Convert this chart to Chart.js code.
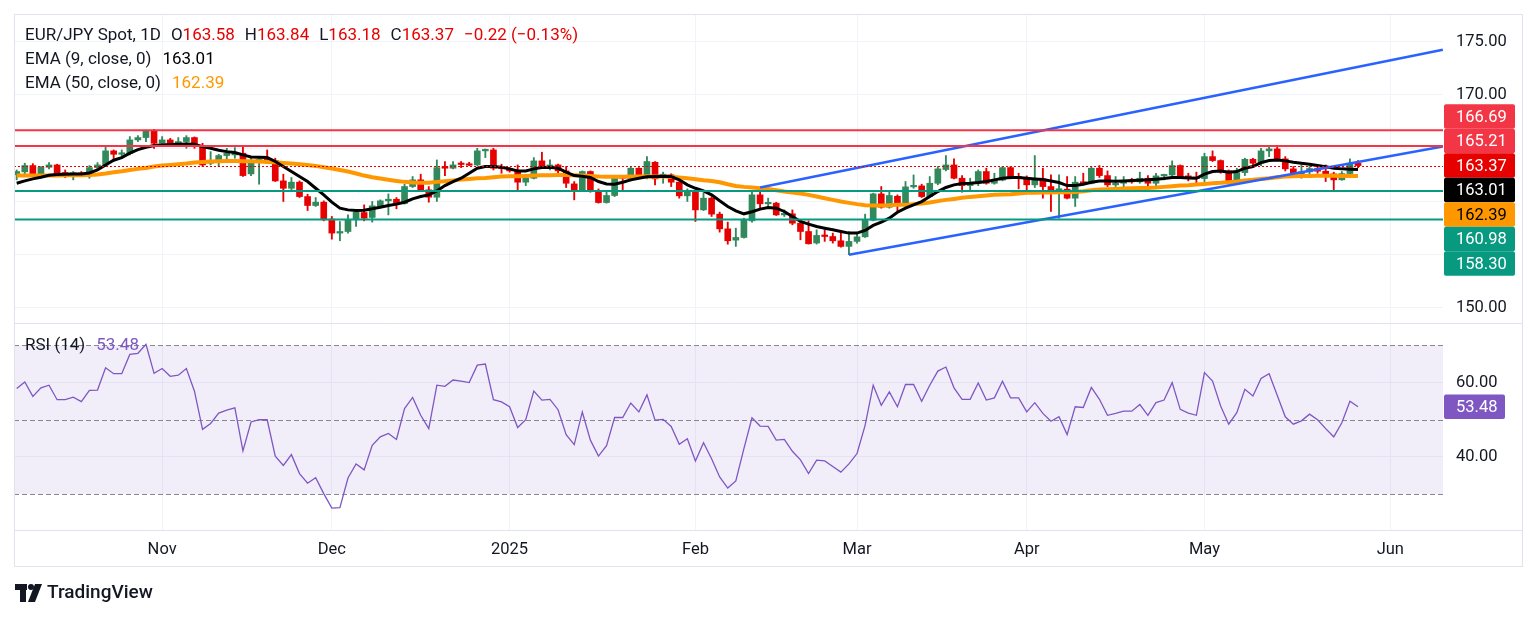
<!DOCTYPE html>
<html><head><meta charset="utf-8">
<script src="https://cdn.jsdelivr.net/npm/chart.js@4.4.1/dist/chart.umd.min.js"></script>
<style>html,body{margin:0;padding:0;background:#fff;}#wrap{position:relative;width:1536px;height:617px;overflow:hidden}</style>
</head><body><div id="wrap"><canvas id="c" width="1536" height="617" style="width:1536px;height:617px"></canvas></div>
<script>
const symbolTitle = 'EUR/JPY Spot, 1D';
const opens = [162.50,162.78,163.37,162.43,163.21,163.43,162.72,162.56,162.68,162.50,163.18,163.43,164.75,164.43,164.50,165.78,166.00,166.62,165.46,165.78,165.46,165.62,166.00,165.15,163.59,163.84,164.31,164.37,164.53,162.59,163.70,164.00,163.85,161.93,161.24,161.81,160.46,159.62,159.93,158.35,157.03,157.18,158.28,158.96,158.50,159.59,160.06,160.21,159.81,161.40,162.03,161.09,160.40,163.25,163.12,163.55,163.47,163.43,164.75,164.84,163.20,163.10,162.87,161.81,162.18,163.81,163.28,163.43,162.87,161.65,161.00,162.81,161.00,159.90,160.56,162.25,162.12,163.12,162.50,163.68,162.30,162.50,161.81,160.53,160.93,159.21,160.31,158.81,157.43,156.37,156.62,158.18,160.62,159.78,159.84,158.74,158.84,157.96,157.18,156.10,156.81,156.71,156.31,155.78,156.25,156.68,158.24,160.71,159.46,160.49,159.62,161.37,161.46,160.46,161.71,163.00,163.43,162.18,161.49,161.71,162.81,161.71,162.00,163.18,162.30,162.20,161.56,162.12,161.40,161.05,161.15,160.31,161.81,161.71,163.12,162.43,161.56,161.71,161.93,161.84,162.18,161.71,162.40,162.49,163.37,162.40,162.25,162.15,164.21,163.84,162.87,161.96,162.71,163.96,163.59,164.75,164.93,164.00,163.06,162.59,162.78,163.09,162.84,162.59,162.03,162.62,163.58];
const highs = [162.96,163.59,163.55,163.28,163.65,163.50,162.96,162.81,162.81,163.37,163.65,165.09,164.84,164.84,166.09,166.18,166.71,166.78,166.09,165.93,166.00,166.18,166.06,165.46,164.68,164.43,164.99,165.06,165.15,164.06,164.06,164.84,164.06,162.56,162.25,161.93,160.68,160.37,160.06,158.59,158.12,158.74,159.21,159.68,160.00,160.15,160.71,160.37,161.62,162.34,162.56,161.40,163.90,163.75,163.75,163.75,163.68,164.99,164.93,164.99,163.50,163.18,163.43,162.34,164.12,164.62,163.90,163.50,163.28,161.87,162.87,162.87,161.18,160.87,162.34,162.34,163.28,163.18,164.21,163.75,162.75,162.60,161.87,161.18,161.00,160.78,160.46,159.00,158.06,157.49,158.43,161.00,161.31,160.31,159.93,159.21,159.21,158.06,158.18,157.34,157.34,157.03,157.25,157.18,157.03,158.81,160.78,161.40,160.87,160.62,161.87,162.49,161.62,162.34,163.28,164.31,164.00,162.43,162.18,162.96,163.12,162.65,163.28,163.28,162.65,162.40,164.31,163.12,162.49,162.49,162.34,162.34,162.65,163.28,163.37,162.87,162.34,162.34,162.18,162.75,162.43,162.65,162.56,163.81,163.43,162.65,162.75,164.53,164.75,163.90,162.96,163.12,164.06,164.06,164.99,165.25,165.15,164.21,163.28,163.43,163.28,163.28,163.43,162.75,162.81,164.00,163.84];
const lows = [162.03,162.50,162.34,162.30,163.06,162.50,162.25,162.03,162.43,162.18,163.06,163.28,163.90,164.06,164.37,165.62,165.62,164.99,165.31,165.15,165.15,164.99,164.99,163.28,163.43,163.28,163.75,164.06,162.34,162.43,161.62,163.59,161.87,160.00,161.09,160.37,159.15,159.53,158.18,156.46,156.31,157.03,157.65,158.18,158.06,159.43,158.74,159.31,159.75,161.31,161.00,159.93,160.00,162.43,163.06,163.18,163.37,163.37,164.12,162.96,162.65,162.75,160.93,161.49,162.12,163.12,162.96,162.50,161.31,160.15,160.93,160.87,159.84,159.84,160.46,161.09,161.93,162.18,162.12,161.56,161.71,161.40,160.31,160.00,158.12,159.15,158.59,157.12,155.99,155.78,156.56,158.06,159.37,159.53,158.68,158.59,157.81,156.40,156.00,156.00,156.25,156.09,155.71,155.00,156.09,156.62,158.18,159.37,159.37,159.12,159.53,161.24,160.37,160.37,161.56,162.87,162.12,160.87,161.00,161.49,161.62,161.62,161.93,162.12,161.18,160.87,161.31,160.31,159.06,158.43,160.24,159.53,161.56,161.65,162.25,161.40,161.40,161.31,161.71,161.71,161.09,161.24,162.03,162.18,162.18,161.93,161.71,161.87,163.75,162.65,161.62,161.87,162.43,163.28,163.37,164.21,163.81,162.87,162.49,162.18,162.56,162.65,161.87,161.09,162.00,162.25,163.18];
const closes = [162.81,163.37,162.43,163.21,163.43,162.59,162.56,162.65,162.50,163.18,163.43,164.75,164.43,164.50,165.78,166.00,166.62,165.46,165.78,165.46,165.62,166.00,165.15,163.43,163.84,164.31,164.53,164.53,162.43,163.75,163.95,163.85,161.93,161.24,161.81,160.46,159.62,159.93,158.28,157.03,157.18,158.28,159.00,158.43,159.59,160.06,160.21,159.75,161.40,162.03,161.09,160.40,163.18,163.12,163.43,163.47,163.40,164.75,164.84,163.12,163.10,162.87,161.81,162.18,163.81,163.28,163.43,162.87,161.71,161.09,162.81,161.00,159.90,160.56,162.25,162.18,163.12,162.50,163.75,162.12,162.56,161.81,160.53,161.00,159.21,160.31,158.81,157.43,156.31,156.62,158.28,160.62,159.78,159.84,158.74,158.84,157.96,157.18,156.03,156.81,156.71,156.31,155.78,156.25,156.68,158.24,160.71,159.46,160.56,159.62,161.37,161.46,160.46,161.71,163.06,163.43,162.18,161.49,161.71,162.81,161.71,162.00,163.18,162.18,162.20,161.56,162.12,161.40,161.09,161.15,160.31,161.81,161.71,163.12,162.43,161.56,161.71,161.90,161.84,162.18,161.71,162.40,162.49,163.37,162.25,162.18,162.15,164.21,163.84,162.87,161.96,162.71,163.96,163.59,164.75,164.93,164.00,163.06,162.59,162.78,163.09,162.84,162.59,162.03,162.62,163.59,163.37];
const ema9 = [161.71,161.93,162.12,162.28,162.46,162.53,162.56,162.59,162.59,162.68,162.96,163.43,163.87,164.12,164.53,164.87,165.09,165.25,165.31,165.34,165.37,165.40,165.37,165.15,164.99,164.81,164.68,164.59,164.37,164.18,164.15,164.12,163.75,163.28,162.81,162.34,161.87,161.24,160.62,159.93,159.37,159.21,159.15,159.18,159.31,159.46,159.62,159.75,159.93,160.24,160.46,160.62,160.99,161.49,161.87,162.18,162.65,163.12,163.28,163.28,163.21,163.06,162.87,162.87,163.06,163.18,163.21,163.12,162.75,162.43,162.37,162.25,161.87,161.65,161.62,161.81,162.03,162.18,162.31,162.34,162.37,162.34,162.03,161.56,161.24,161.00,160.62,160.06,159.53,159.12,158.84,159.03,159.28,159.43,159.37,159.06,158.59,158.12,157.87,157.65,157.49,157.34,157.18,157.03,157.03,157.28,157.75,158.06,158.43,158.99,159.37,159.68,159.99,160.46,160.93,161.31,161.56,161.68,161.71,161.78,161.87,162.03,162.18,162.25,162.25,162.18,162.12,162.06,161.93,161.78,161.49,161.49,161.62,161.81,161.93,161.93,161.90,161.93,161.96,162.00,162.03,162.09,162.15,162.25,162.25,162.21,162.18,162.56,162.81,162.87,162.75,162.81,163.12,163.28,163.65,163.84,163.90,163.81,163.68,163.59,163.50,163.37,163.25,163.12,163.06,163.03,163.01];
const ema50 = [162.43,162.43,162.43,162.43,162.43,162.43,162.46,162.46,162.46,162.49,162.53,162.62,162.75,162.84,162.96,163.06,163.15,163.28,163.37,163.43,163.50,163.56,163.65,163.71,163.75,163.78,163.81,163.81,163.78,163.78,163.75,163.71,163.68,163.62,163.56,163.50,163.43,163.34,163.21,163.09,162.96,162.81,162.62,162.43,162.28,162.15,162.03,161.93,161.84,161.78,161.75,161.75,161.84,161.90,161.96,162.06,162.12,162.18,162.21,162.28,162.34,162.37,162.37,162.40,162.43,162.46,162.46,162.49,162.49,162.46,162.43,162.40,162.34,162.31,162.31,162.31,162.34,162.34,162.37,162.34,162.34,162.31,162.25,162.18,162.09,162.00,161.93,161.81,161.62,161.46,161.37,161.31,161.24,161.18,161.06,160.93,160.84,160.74,160.62,160.46,160.31,160.15,159.99,159.87,159.75,159.65,159.62,159.62,159.65,159.68,159.68,159.75,159.81,159.90,160.03,160.15,160.24,160.34,160.43,160.49,160.56,160.62,160.65,160.68,160.74,160.81,160.81,160.84,160.84,160.87,160.87,160.90,160.96,161.06,161.12,161.15,161.18,161.21,161.24,161.27,161.27,161.31,161.37,161.43,161.49,161.53,161.59,161.65,161.71,161.75,161.81,161.87,161.96,162.03,162.12,162.18,162.28,162.34,162.37,162.39,162.40,162.42,162.42,162.41,162.40,162.40,162.39];
const rsi14 = [58.4,60.2,56.3,58.6,59.3,55.4,55.4,56.1,54.9,57.9,58.0,64.0,62.4,62.4,67.6,67.9,70.3,62.5,63.8,61.7,62.0,63.8,57.7,47.4,49.0,51.8,52.6,53.2,41.6,49.4,50.0,50.0,40.2,37.7,40.6,35.5,32.9,34.4,30.1,26.2,26.3,34.3,38.1,36.5,43.1,45.4,46.3,44.7,53.0,56.0,51.2,47.6,59.3,59.0,60.7,60.4,60.0,64.7,65.0,55.4,54.8,53.5,47.9,50.0,57.7,55.3,55.5,52.7,46.0,43.3,52.1,44.5,40.2,43.0,50.6,50.6,54.5,52.1,56.7,49.9,50.1,48.2,43.4,44.9,38.9,43.8,39.5,34.6,31.6,33.5,42.2,50.5,48.3,48.2,44.5,44.7,41.5,39.2,35.5,39.1,38.9,37.4,35.9,38.1,40.9,48.5,59.3,53.9,57.5,53.5,59.5,59.5,55.0,59.3,63.1,64.2,58.6,55.5,55.5,59.9,55.3,55.9,60.4,55.9,55.9,52.1,54.6,51.7,49.6,50.8,46.0,53.5,53.3,58.7,55.5,51.2,51.7,52.3,52.3,54.1,51.2,54.6,55.3,60.0,52.8,51.8,51.2,62.7,60.4,53.7,48.8,51.9,58.2,56.4,61.1,62.4,56.6,50.8,48.8,49.7,51.5,50.0,47.6,45.4,49.2,55.0,53.48];
const monthTickIndex = [18,39,61,84,104,125,147,170];
const monthTickLabels = ['Nov','Dec','2025','Feb','Mar','Apr','May','Jun'];
const priceGridValues = [150,155,160,165,170,175];
const priceTickLabels = [150,170,175];
const rsiTickLabels = [40,60];
const rsiLevels = [70,50,30];
const resistanceLevels = [166.69,165.21];
const supportLevels = [160.98,158.30];
const upperChannel = [[92,161.31],[176.5,174.25]];
const lowerChannel = [[103,155.00],[176.5,165.17]];

const UP = '#31895c', DOWN = '#e60000', TXT = '#131722', RED_LINE = '#f23645', TEAL = '#089981', BLUE = '#2962ff', ORANGE = '#ff9800', PURPLE = '#7e57c2';
const FONT = 'Roboto';
const last = closes.length - 1;
const candleColors = closes.map((c, i) => c >= opens[i] ? UP : DOWN);

function roundRect(ctx, x, y, w, h, r) {
  ctx.beginPath(); ctx.moveTo(x + r, y); ctx.lineTo(x + w - r, y); ctx.quadraticCurveTo(x + w, y, x + w, y + r);
  ctx.lineTo(x + w, y + h - r); ctx.quadraticCurveTo(x + w, y + h, x + w - r, y + h); ctx.lineTo(x + r, y + h);
  ctx.quadraticCurveTo(x, y + h, x, y + h - r); ctx.lineTo(x, y + r); ctx.quadraticCurveTo(x, y, x + r, y); ctx.closePath();
}
function drawRuns(ctx, x, y, runs, gap) {
  runs.forEach(r => {
    if (r === null) { x += gap; return; }
    ctx.fillStyle = r[1]; ctx.fillText(r[0], x, y); x += ctx.measureText(r[0]).width;
  });
}
function noPad(s) { s.paddingTop = 0; s.paddingBottom = 0; s.paddingLeft = 0; s.paddingRight = 0; }

const tvPlugin = {
  id: 'tv',
  beforeDatasetsDraw(chart) {
    const {ctx, chartArea: ca, scales} = chart; const r = scales.rsi;
    ctx.save();
    const yTop = r.getPixelForValue(rsiLevels[0]), yBot = r.getPixelForValue(rsiLevels[2]);
    ctx.fillStyle = 'rgba(126,87,194,0.1)';
    ctx.fillRect(ca.left, yTop, ca.right - ca.left, yBot - yTop);
    ctx.setLineDash([5, 3]); ctx.strokeStyle = '#868993'; ctx.lineWidth = 1;
    rsiLevels.forEach(v => { const y = Math.round(r.getPixelForValue(v)) + 0.5; ctx.beginPath(); ctx.moveTo(ca.left, y); ctx.lineTo(ca.right, y); ctx.stroke(); });
    ctx.restore();
  },
  afterDatasetsDraw(chart) {
    const {ctx, chartArea: ca, scales} = chart; const p = scales.y;
    ctx.save();
    ctx.beginPath(); ctx.rect(ca.left, p.top, ca.right - ca.left, p.bottom - p.top); ctx.clip();
    ctx.lineWidth = 2;
    resistanceLevels.forEach(v => { const y = p.getPixelForValue(v); ctx.strokeStyle = RED_LINE; ctx.beginPath(); ctx.moveTo(ca.left, y); ctx.lineTo(ca.right, y); ctx.stroke(); });
    supportLevels.forEach(v => { const y = p.getPixelForValue(v); ctx.strokeStyle = TEAL; ctx.beginPath(); ctx.moveTo(ca.left, y); ctx.lineTo(ca.right, y); ctx.stroke(); });
    const yl = Math.round(p.getPixelForValue(closes[last])) + 0.5;
    ctx.lineWidth = 1; ctx.setLineDash([2, 2]); ctx.strokeStyle = candleColors[last];
    ctx.beginPath(); ctx.moveTo(ca.left, yl); ctx.lineTo(ca.right, yl); ctx.stroke();
    ctx.restore();
  },
  afterDraw(chart) {
    const {ctx, chartArea: ca, scales} = chart; const p = scales.y, r = scales.rsi;
    ctx.save();
    ctx.strokeStyle = '#e0e3eb'; ctx.lineWidth = 1;
    const fx1 = ca.left + 0.5, fx2 = p.right + 0.5, fy1 = ca.top + 0.5, fy2 = chart.scales.x.bottom + 0.5;
    ctx.strokeRect(fx1, fy1, fx2 - fx1, fy2 - fy1);
    ctx.beginPath(); ctx.moveTo(fx1, Math.round(r.top) + 0.5); ctx.lineTo(fx2, Math.round(r.top) + 0.5); ctx.stroke();
    ctx.beginPath(); ctx.moveTo(fx1, Math.round(ca.bottom) + 0.5); ctx.lineTo(fx2, Math.round(ca.bottom) + 0.5); ctx.stroke();

    ctx.font = '17px ' + FONT; ctx.textBaseline = 'middle'; ctx.textAlign = 'left';
    const lx = ca.left + 11;
    const chg = closes[last] - closes[last - 1];
    const pct = chg / closes[last - 1] * 100;
    const fmt = v => (v < 0 ? '\u2212' : '+') + Math.abs(v).toFixed(2);
    const vc = candleColors[last];
    drawRuns(ctx, lx, ca.top + 22, [[symbolTitle, TXT], null, ['O', TXT], [opens[last].toFixed(2), vc], null, ['H', TXT], [highs[last].toFixed(2), vc], null, ['L', TXT], [lows[last].toFixed(2), vc], null, ['C', TXT], [closes[last].toFixed(2), vc], null, [fmt(chg) + ' (' + fmt(pct) + '%)', vc]], 10);
    drawRuns(ctx, lx, ca.top + 46, [['EMA (9, close, 0)', TXT], null, [ema9[last].toFixed(2), '#000']], 11);
    drawRuns(ctx, lx, ca.top + 70, [['EMA (50, close, 0)', TXT], null, [ema50[last].toFixed(2), ORANGE]], 11);
    drawRuns(ctx, lx, r.top + 23, [['RSI (14)', TXT], null, [rsi14[last].toFixed(2), PURPLE]], 11);

    ctx.font = '16.5px ' + FONT;
    const h = 24.5, bx = p.left + 1, bw = 71;
    const items = [
      ...resistanceLevels.map(v => ({v, bg: RED_LINE, fg: '#fff'})),
      {v: closes[last], bg: candleColors[last], fg: '#fff', anchor: true},
      {v: ema9[last], bg: '#000', fg: '#fff'},
      {v: ema50[last], bg: ORANGE, fg: '#000'},
      ...supportLevels.map(v => ({v, bg: TEAL, fg: '#fff'}))
    ].sort((a, b) => b.v - a.v);
    items.forEach(it => it.y = p.getPixelForValue(it.v));
    const ai = items.findIndex(it => it.anchor);
    for (let k = ai - 1; k >= 0; k--) items[k].y = Math.min(items[k].y, items[k + 1].y - h);
    for (let k = ai + 1; k < items.length; k++) items[k].y = Math.max(items[k].y, items[k - 1].y + h);
    items.forEach(it => {
      ctx.fillStyle = it.bg; roundRect(ctx, bx, it.y - h / 2, bw, h, 2); ctx.fill();
      ctx.fillStyle = it.fg; ctx.fillText(it.v.toFixed(2), p.left + 13, it.y + 1);
    });
    const ry = r.getPixelForValue(rsi14[last]);
    ctx.fillStyle = PURPLE; roundRect(ctx, bx, ry - h / 2, bw - 10, h, 2); ctx.fill();
    ctx.fillStyle = '#fff'; ctx.fillText(rsi14[last].toFixed(2), p.left + 13, ry + 1);

    ctx.fillStyle = TXT;
    ctx.fillRect(15, 584, 12, 6); ctx.fillRect(20, 584, 6, 18);
    ctx.beginPath(); ctx.arc(31, 587, 3, 0, Math.PI * 2); ctx.fill();
    ctx.beginPath(); ctx.moveTo(35, 584); ctx.lineTo(42, 584); ctx.lineTo(35, 602); ctx.lineTo(28, 602); ctx.closePath(); ctx.fill();
    ctx.font = '500 19px ' + FONT; ctx.fillText('TradingView', 47, 593);
    ctx.restore();
  }
};

const ptsOf = arr => arr.map((v, i) => ({x: i, y: v}));
const chart = new Chart(document.getElementById('c'), {
  type: 'bar',
  data: {
    datasets: [
      {type: 'line', data: upperChannel.map(a => ({x: a[0], y: a[1]})), borderColor: BLUE, borderWidth: 2.5, pointRadius: 0, yAxisID: 'y', order: 0},
      {type: 'line', data: lowerChannel.map(a => ({x: a[0], y: a[1]})), borderColor: BLUE, borderWidth: 2.5, pointRadius: 0, yAxisID: 'y', order: 0},
      {type: 'line', data: ptsOf(rsi14), borderColor: PURPLE, borderWidth: 1.3, pointRadius: 0, yAxisID: 'rsi', order: 0},
      {type: 'line', data: ptsOf(ema9), borderColor: '#000', borderWidth: 3, pointRadius: 0, yAxisID: 'y', order: 1},
      {type: 'line', data: ptsOf(ema50), borderColor: ORANGE, borderWidth: 4, pointRadius: 0, yAxisID: 'y', order: 2},
      {type: 'bar', data: opens.map((o, i) => ({x: i, y: [o, closes[i]]})), backgroundColor: candleColors, barThickness: 6, minBarLength: 1.5, grouped: false, yAxisID: 'y', order: 3},
      {type: 'bar', data: lows.map((l, i) => ({x: i, y: [l, highs[i]]})), backgroundColor: candleColors, barThickness: 1.2, grouped: false, yAxisID: 'y', order: 4}
    ]
  },
  options: {
    responsive: false, animation: false, events: [],
    layout: {padding: {left: 14, right: 14, top: 14, bottom: 51}},
    plugins: {legend: {display: false}, tooltip: {enabled: false}},
    scales: {
      x: {
        type: 'linear', min: -0.334, max: 176.52, offset: false,
        afterBuildTicks: s => { s.ticks = monthTickIndex.map(v => ({value: v})); },
        afterFit: s => { s.height = 36; noPad(s); },
        ticks: {autoSkip: false, maxRotation: 0, padding: 10, color: TXT, font: {family: FONT, size: 16.5},
          callback: v => monthTickLabels[monthTickIndex.indexOf(v)]},
        grid: {color: '#f0f3fa', drawTicks: false, offset: false}, border: {display: false}
      },
      y: {
        type: 'linear', position: 'right', stack: 'pane', stackWeight: 309, min: 148.59, max: 177.60,
        afterBuildTicks: s => { s.ticks = priceGridValues.map(v => ({value: v})); },
        afterFit: s => { s.width = 79; noPad(s); },
        ticks: {padding: 13, color: TXT, font: {family: FONT, size: 16.5},
          callback: v => priceTickLabels.includes(v) ? v.toFixed(2) : ''},
        grid: {color: '#f0f3fa', drawTicks: false}, border: {display: false}
      },
      rsi: {
        type: 'linear', position: 'right', stack: 'pane', stackWeight: 207, min: 20.30, max: 76.06,
        afterBuildTicks: s => { s.ticks = rsiTickLabels.map(v => ({value: v})); },
        afterFit: s => { s.width = 79; noPad(s); },
        ticks: {padding: 13, color: TXT, font: {family: FONT, size: 16.5}, callback: v => v.toFixed(2)},
        grid: {color: '#f0f3fa', drawTicks: false}, border: {display: false}
      }
    }
  },
  plugins: [tvPlugin]
});
</script></body></html>
